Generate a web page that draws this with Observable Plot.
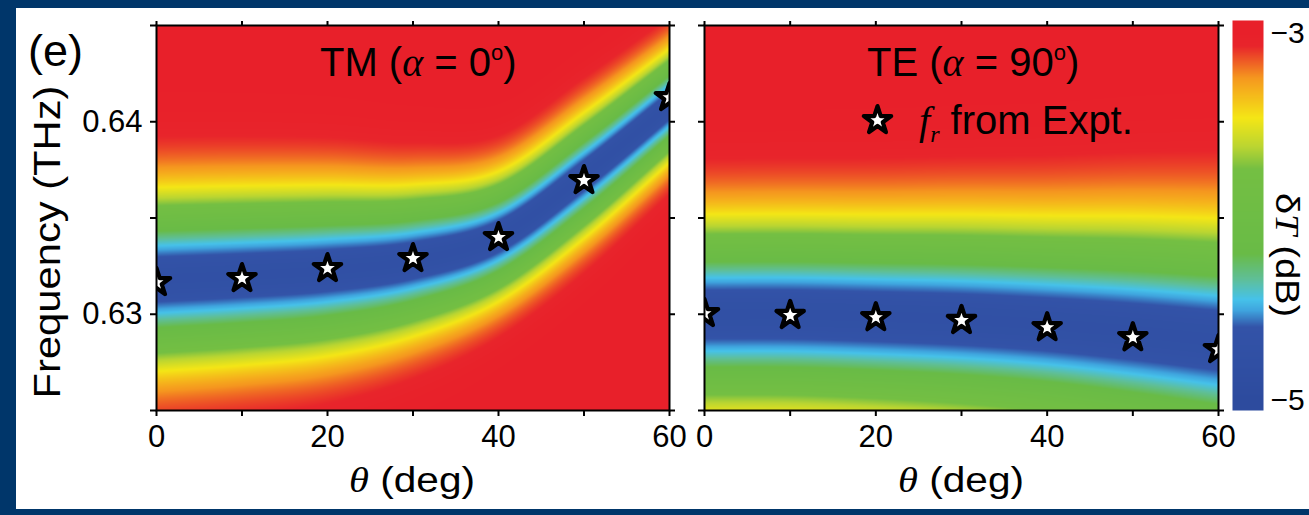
<!DOCTYPE html>
<html><head><meta charset="utf-8">
<script src="https://cdn.jsdelivr.net/npm/d3@7"></script>
<script src="https://cdn.jsdelivr.net/npm/@observablehq/plot@0.6"></script>
<style>
html,body{margin:0;padding:0;background:#00366a;}
#wrap{position:relative;width:1309px;height:515px;background:#00366a;overflow:hidden;}
#paper{position:absolute;left:16px;top:8px;width:1293px;height:501px;background:#fff;}
#wrap svg{position:absolute;left:0;top:0;}
</style></head><body><div id="wrap"><div id="paper"></div></div>
<script>
// ---------- data ----------
const theta = [0, 10, 20, 30, 40, 50, 60];                      // deg
// TM (alpha = 0): simulated dip centre and half-width (THz), experimental f_r
const tmBandCenter = [0.63181, 0.63201, 0.63227, 0.63279, 0.63404, 0.63721, 0.64084];
const tmBandWidth  = [0.00478, 0.00466, 0.00445, 0.00395, 0.00338, 0.00327, 0.00296];
const tmStars      = [0.63165, 0.63186, 0.63238, 0.63290, 0.63399, 0.63695, 0.64126];
// TE (alpha = 90)
const teBandCenter = [0.62999, 0.62999, 0.62988, 0.62973, 0.62947, 0.62910, 0.62864];
const teBandWidth  = [0.00520, 0.00522, 0.00530, 0.00545, 0.00565, 0.00600, 0.00634];
const teStars      = [0.63004, 0.62994, 0.62983, 0.62968, 0.62931, 0.62879, 0.62817];
// dip depth of the simulated transmission (dB below -3) and its gaussian width (in half-widths)
const dipDepth = 1.73, dipSigma = 0.615;
// ticks
const xTicks = [0, 10, 20, 30, 40, 50, 60];
const xTickLabels = [0, 20, 40, 60];
const yTicks = [0.625, 0.63, 0.635, 0.64, 0.645];
const yTickLabels = [0.63, 0.64];
const colorbarTicks = [-3, -5];
// colour map (dB -> colour)
const dBStops  = [-5.0, -4.60, -4.51, -4.45, -4.34, -4.20, -3.74, -3.62, -3.46, -3.24, -3.07, -3.0];
const dBColors = ["#2d4b9e", "#3353a8", "#3fa4de", "#46c2ea", "#5fbf98", "#69bb46", "#74bf43", "#b9d532", "#f4e616", "#f5961f", "#e8252b", "#e8202a"];

// ---------- helpers ----------
const W = 1309, H = 515;
const FONT = "'Liberation Sans', Arial, Helvetica, sans-serif";
const SERIF = "'Liberation Serif', 'Times New Roman', serif";
const colorScale = {type: "linear", domain: dBStops, range: dBColors, clamp: true};

function smoothCurve(xs, ys) {
  const n = xs.length;
  const m = ys.map((y, i) => i === 0 ? (ys[1] - ys[0]) / (xs[1] - xs[0])
    : i === n - 1 ? (ys[n - 1] - ys[n - 2]) / (xs[n - 1] - xs[n - 2])
    : (ys[i + 1] - ys[i - 1]) / (xs[i + 1] - xs[i - 1]));
  return x => {
    const i = Math.max(0, Math.min(n - 2, d3.bisectRight(xs, x) - 1));
    const h = xs[i + 1] - xs[i], t = (x - xs[i]) / h, t2 = t * t, t3 = t2 * t;
    return (2*t3 - 3*t2 + 1) * ys[i] + (t3 - 2*t2 + t) * h * m[i]
         + (-2*t3 + 3*t2) * ys[i + 1] + (t3 - t2) * h * m[i + 1];
  };
}
function field(centers, widths) {
  const c = smoothCurve(theta, centers), w = smoothCurve(theta, widths);
  return (x, y) => {
    const u = (y - c(x)) / w(x);
    return -3 - dipDepth * Math.exp(-u * u / (2 * dipSigma * dipSigma));
  };
}

const starStyle = {symbol: "star", r: 8.6, fill: "white", stroke: "black", strokeWidth: 4.2, strokeLinejoin: "round"};

function panel({left, right, centers, widths, stars, showYLabels, extra = []}) {
  const pts = theta.map((t, i) => ({theta: t, f: stars[i]}));
  return Plot.plot({
    width: W, height: H,
    marginLeft: left, marginRight: W - right, marginTop: 25, marginBottom: H - 410,
    x: {domain: [0, 60]}, y: {domain: [0.625, 0.645]},
    color: colorScale,
    style: {background: "none", fontFamily: FONT, fontSize: "31px", color: "black", overflow: "visible"},
    marks: [
      Plot.raster({x1: 0, x2: 60, y1: 0.625, y2: 0.645, fill: field(centers, widths), pixelSize: 1}),
      Plot.dot(pts, {x: "theta", y: "f", ...starStyle, clip: true}),
      Plot.frame({stroke: "black", strokeWidth: 2}),
      Plot.axisX({anchor: "bottom", ticks: xTicks, tickFormat: d => xTickLabels.includes(d) ? String(d) : "",
        tickSize: 6, tickPadding: 8, strokeWidth: 2, label: null, fontSize: 31}),
      Plot.axisX({anchor: "top", ticks: xTicks, tickFormat: () => "", tickSize: 5, strokeWidth: 2, label: null}),
      Plot.axisY({anchor: "left", ticks: yTicks,
        tickFormat: d => showYLabels && yTickLabels.some(v => Math.abs(v - d) < 1e-9) ? d.toFixed(2) : "",
        tickSize: 6, tickPadding: 8, strokeWidth: 2, label: null, fontSize: 31}),
      Plot.axisY({anchor: "right", ticks: yTicks, tickFormat: () => "", tickSize: 5, strokeWidth: 2, label: null}),
      ...extra
    ]
  });
}

function addText(svg, {x, y, rotate = 0, size, anchor = "start", parts, length}) {
  const t = d3.select(svg).append("text")
    .attr("transform", `translate(${x},${y}) rotate(${rotate})`)
    .attr("text-anchor", anchor).attr("font-size", size).attr("font-family", FONT).attr("fill", "black");
  if (length) t.attr("textLength", length).attr("lengthAdjust", "spacingAndGlyphs");
  for (const p of parts) {
    const s = t.append("tspan").text(p.text);
    if (p.serif) s.attr("font-family", SERIF);
    if (p.italic) s.attr("font-style", "italic");
    if (p.scale) s.attr("font-size", size * p.scale);
    if (p.dy) s.attr("dy", p.dy);
  }
  return t;
}

// ---------- build ----------
const wrap = document.getElementById("wrap");

const tm = panel({left: 156, right: 669, centers: tmBandCenter, widths: tmBandWidth, stars: tmStars, showYLabels: true});
wrap.appendChild(tm);
addText(tm, {x: 28, y: 66, size: 45, parts: [{text: "(e)"}]});
addText(tm, {x: 60, y: 242, rotate: -90, size: 37, anchor: "middle", length: 313, parts: [{text: "Frequency (THz)"}]});
addText(tm, {x: 320, y: 76, size: 40, parts: [{text: "TM ("}, {text: "α", serif: true, italic: true}, {text: " = 0"},
  {text: "o", scale: 0.55, dy: -16}, {text: ")", dy: 16}]});
addText(tm, {x: 412, y: 492, size: 35, anchor: "middle", length: 126, parts: [{text: "θ", serif: true, italic: true}, {text: " (deg)"}]});

const te = panel({left: 704, right: 1218, centers: teBandCenter, widths: teBandWidth, stars: teStars, showYLabels: false,
  extra: [Plot.dot([0], {frameAnchor: "top-left", dx: 173, dy: 95, ...starStyle})]});
wrap.appendChild(te);
addText(te, {x: 867, y: 76, size: 40, parts: [{text: "TE ("}, {text: "α", serif: true, italic: true}, {text: " = 90"},
  {text: "o", scale: 0.55, dy: -16}, {text: ")", dy: 16}]});
addText(te, {x: 919, y: 134, size: 40, parts: [{text: "f", serif: true, italic: true},
  {text: "r", serif: true, italic: true, scale: 0.6, dy: 8}, {text: " from Expt.", dy: -8}]});
addText(te, {x: 961, y: 492, size: 35, anchor: "middle", length: 126, parts: [{text: "θ", serif: true, italic: true}, {text: " (deg)"}]});

const cbTop = -2.929, cbBottom = -5.0545;
const cb = Plot.plot({
  width: W, height: H, marginLeft: 1232, marginRight: W - 1263, marginTop: 20, marginBottom: H - 410,
  x: {domain: [0, 1], axis: null}, y: {domain: [cbBottom, cbTop]},
  color: colorScale,
  style: {background: "none", fontFamily: FONT, fontSize: "30px", color: "black", overflow: "visible"},
  marks: [
    Plot.raster({x1: 0, x2: 1, y1: cbBottom, y2: cbTop, fill: (x, y) => y, pixelSize: 1}),
    Plot.axisY({anchor: "right", ticks: colorbarTicks, tickFormat: d3.format("d"), tickSize: 0, tickPadding: 7,
      label: null, fontSize: 30})
  ]
});
wrap.appendChild(cb);
addText(cb, {x: 1276, y: 255, rotate: 90, size: 33, anchor: "middle", length: 124,
  parts: [{text: "δ"}, {text: "T", serif: true, italic: true}, {text: " (dB)"}]});
</script></body></html>
